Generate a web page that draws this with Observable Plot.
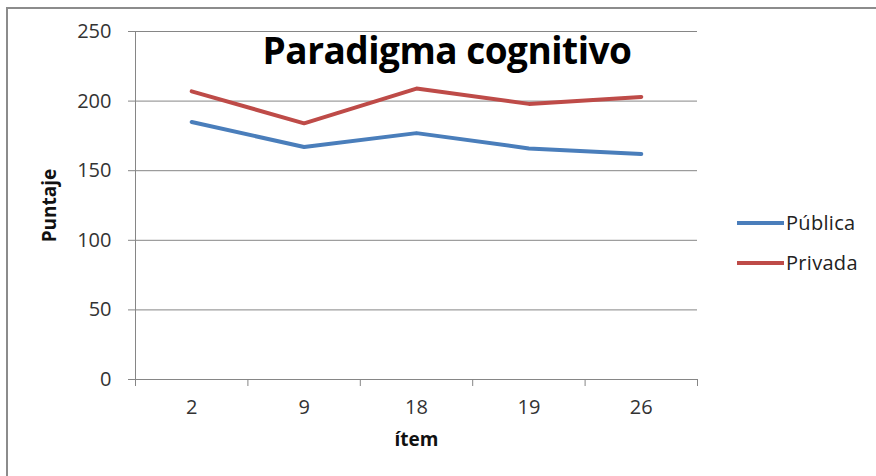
<!DOCTYPE html>
<html>
<head>
<meta charset="utf-8">
<script src="https://cdn.jsdelivr.net/npm/d3@7"></script>
<script src="https://cdn.jsdelivr.net/npm/@observablehq/plot@0.6"></script>
<style>
  html, body { margin: 0; padding: 0; background: #fff; }
  #wrap { position: relative; width: 876px; height: 476px; overflow: hidden; font-family: "Open Sans", sans-serif; }
  #frame { position: absolute; left: 6px; top: 7px; width: 880px; height: 480px; border-left: 2px solid #8c8c8c; border-top: 2px solid #8c8c8c; box-sizing: border-box; pointer-events: none; }
  #title { position: absolute; left: 0; top: 27px; width: 894px; text-align: center; font-weight: bold; font-size: 37px; line-height: 46px; color: #000; letter-spacing: -0.5px; }
  .leg { position: absolute; left: 737px; font-size: 20px; line-height: 24px; color: #222; display: flex; align-items: center; letter-spacing: 0.3px; }
  .leg span.sw { display: inline-block; width: 47px; height: 4px; margin-right: 2px; }
</style>
</head>
<body>
<div id="wrap">
  <div id="chart"></div>
  <div id="frame"></div>
  <div id="title">Paradigma cognitivo</div>
  <div class="leg" style="top:211px"><span class="sw" style="background:#4a7ebb"></span>Pública</div>
  <div class="leg" style="top:251px"><span class="sw" style="background:#be4b48"></span>Privada</div>
</div>
<script>
const items = ["2", "9", "18", "19", "26"];
const publica = [185, 167, 177, 166, 162];
const privada = [207, 184, 209, 198, 203];
const yTicks = [0, 50, 100, 150, 200, 250];
const seriesNames = ["Pública", "Privada"];
const seriesColors = ["#4a7ebb", "#be4b48"];

const data = [];
items.forEach((it, i) => {
  data.push({pos: i + 0.5, item: it, value: publica[i], serie: seriesNames[0]});
  data.push({pos: i + 0.5, item: it, value: privada[i], serie: seriesNames[1]});
});
const boundaries = d3.range(items.length + 1);

const chart = Plot.plot({
  width: 876,
  height: 476,
  marginLeft: 135,
  marginRight: 179,
  marginTop: 31,
  marginBottom: 97,
  style: {fontFamily: "Open Sans, sans-serif", color: "#333", background: "transparent"},
  x: {type: "linear", domain: [0, items.length], axis: null},
  y: {domain: [0, 250], axis: null},
  color: {domain: seriesNames, range: seriesColors},
  marks: [
    Plot.gridY(yTicks.filter(d => d > 0), {stroke: "#868686", strokeOpacity: 1, strokeWidth: 1}),
    Plot.ruleX([0], {stroke: "#868686"}),
    Plot.ruleY([0], {stroke: "#868686"}),
    Plot.axisY(yTicks, {tickSize: 7, tickFormat: () => "", stroke: "#868686", label: null}),
    Plot.axisX(boundaries, {tickSize: 7, tickFormat: () => "", stroke: "#868686", label: null}),
    Plot.text(yTicks, {x: 0, y: d => d, text: d => String(d), textAnchor: "end", dx: -24, fontSize: 20, fill: "#333"}),
    Plot.text(items, {x: (d, i) => i + 0.5, y: 0, text: d => d, dy: 28, fontSize: 20, fill: "#333"}),
    Plot.text(["ítem"], {frameAnchor: "bottom", dy: 66, fontWeight: "bold", fontSize: 19, fill: "#111"}),
    Plot.text(["Puntaje"], {frameAnchor: "left", textAnchor: "middle", dx: -86, rotate: -90, fontWeight: "bold", fontSize: 19, fill: "#111"}),
    Plot.line(data, {x: "pos", y: "value", z: "serie", stroke: d => d.serie, strokeWidth: 4, strokeLinejoin: "round"})
  ]
});
document.getElementById("chart").appendChild(chart);
</script>
</body>
</html>
